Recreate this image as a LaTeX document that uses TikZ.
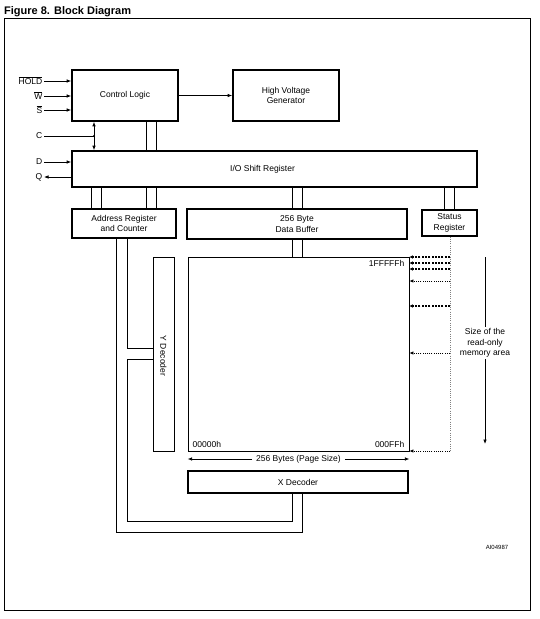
\documentclass[tikz,border=0pt]{standalone}
\usepackage{fontspec}
\setmainfont{Liberation Sans}
\usetikzlibrary{arrows.meta}
\newcommand\dfont{\fontsize{8.5}{10.5}\selectfont}
\newcommand\ovl[1]{\mbox{$\overline{\hbox{#1}}$}}
\begin{document}
\begin{tikzpicture}[x=1pt,y=-1pt,
  box/.style={draw,line width=1.6pt,inner sep=0pt,align=center,font=\dfont},
  txt/.style={inner sep=1.5pt,font=\dfont,align=center},
  wire/.style={line width=0.75pt},
  tip/.style={-{Latex[length=4.5pt,width=3.6pt]}},
  dtip/.style={{Latex[length=4.5pt,width=3.6pt]}-{Latex[length=4.5pt,width=3.6pt]}},
  thickdash/.style={line width=1.4pt,dash pattern=on 2pt off 1.3pt,-{Latex[length=3.5pt,width=3.5pt]}},
  thindot/.style={line width=0.8pt,dash pattern=on 1pt off 1.2pt,-{Latex[length=4pt,width=3.5pt]}},
]
\useasboundingbox (0,0) rectangle (539,619);
\node[anchor=base west,inner sep=0pt,font=\fontsize{11}{13}\selectfont\bfseries] (title) at (4,14.5) {Figure 8. Block Diagram};
\draw[line width=0.9pt] (4,18) rectangle (530,610);

% boxes
\node[box,minimum width=106pt,minimum height=51pt] (cl) at (125,95.5) {Control Logic};
\node[box,minimum width=106pt,minimum height=51pt] (hvg) at (286,95.5) {High Voltage\\Generator};
\node[box,minimum width=405pt,minimum height=36pt,label={[font=\dfont,xshift=-12pt]center:I/O Shift Register}] (io) at (274.5,169) {};
\node[box,minimum width=104pt,minimum height=29pt] (addr) at (124,223.5) {Address Register\\and Counter};
\node[box,minimum width=220pt,minimum height=30pt] (dbuf) at (297,224) {256 Byte\\Data Buffer};
\node[box,minimum width=55pt,minimum height=26pt] (stat) at (449.5,223) {Status\\Register};
\node[draw,line width=0.8pt,minimum width=221pt,minimum height=194pt,inner sep=0pt] (mem) at (298.5,354) {};
\draw[line width=1.6pt] (mem.north east) -- (mem.south east) -- (mem.south west);
\node[draw,line width=0.9pt,minimum width=21pt,minimum height=194pt,inner sep=0pt] (ydec) at (163.5,354) {};
\node[txt,rotate=-90] (ytxt) at (163.5,356) {Y Decoder};
\node[box,minimum width=220pt,minimum height=22pt] (xdec) at (298,482) {X Decoder};

% inputs
\node[txt,anchor=east] (hold) at (44,81) {\ovl{HOLD}};
\node[txt,anchor=east] (w) at (44,96) {\ovl{W}};
\node[txt,anchor=east] (s) at (44,110) {\ovl{S}};
\node[txt,anchor=east] (c) at (44,136) {C};
\node[txt,anchor=east] (d) at (44,162) {D};
\node[txt,anchor=east] (q) at (44,177) {Q};
\draw[wire,tip] (hold.east) -- (hold.east -| cl.west);
\draw[wire,tip] (w.east) -- (w.east -| cl.west);
\draw[wire,tip] (s.east) -- (s.east -| cl.west);
\coordinate (cj) at (94,136);
\draw[wire] (c.east) -- (cj);
\fill (cj) circle (1.1pt);
\draw[wire,dtip] (cl.south -| cj) -- (io.north -| cj);
\draw[wire,tip] (d.east) -- (d.east -| io.west);
\draw[wire,tip] (q.east -| io.west) -- (q.east);
\draw[wire,tip] (cl.east) -- (hvg.west);

% bus x positions
\coordinate (a1) at (91,0);
\coordinate (a2) at (101,0);
\coordinate (b1) at (146,0);
\coordinate (b2) at (156,0);
\coordinate (d1) at (292,0);
\coordinate (d2) at (302,0);
\coordinate (s1) at (444,0);
\coordinate (s2) at (454,0);
\draw[wire] (cl.south -| b1) -- (io.north -| b1);
\draw[wire] (cl.south -| b2) -- (io.north -| b2);
\draw[wire] (io.south -| a1) -- (addr.north -| a1);
\draw[wire] (io.south -| a2) -- (addr.north -| a2);
\draw[wire] (io.south -| b1) -- (addr.north -| b1);
\draw[wire] (io.south -| b2) -- (addr.north -| b2);
\draw[wire] (io.south -| d1) -- (dbuf.north -| d1);
\draw[wire] (io.south -| d2) -- (dbuf.north -| d2);
\draw[wire] (io.south -| s1) -- (stat.north -| s1);
\draw[wire] (io.south -| s2) -- (stat.north -| s2);
\draw[wire] (dbuf.south -| d1) -- (mem.north -| d1);
\draw[wire] (dbuf.south -| d2) -- (mem.north -| d2);

% address routing
\coordinate (ri) at (127,521);
\coordinate (ro) at (116,532);
\coordinate (ya) at (0,348);
\coordinate (yb) at (0,359);
\draw[wire] (addr.south -| ri) |- (ydec.west |- ya);
\draw[wire] (ydec.west |- yb) -| (ri) -| (xdec.south -| d1);
\draw[wire] (addr.south -| ro) -- (ro) -| (xdec.south -| d2);

% memory labels
\node[txt,anchor=east] (top) at (406,263) {1FFFFFh};
\node[txt,anchor=west] (lo) at (191,444) {00000h};
\node[txt,anchor=east] (hi) at (406,444) {000FFh};

% page size
\node[txt,inner sep=4pt] (pg) at (298.5,459) {256 Bytes (Page Size)};
\draw[wire,tip] (pg.west) -- (pg.west -| mem.west);
\draw[wire,tip] (pg.east) -- (pg.east -| mem.east);

% dotted protection lines
\coordinate (dv) at (450,0);
\draw[line width=0.8pt,dash pattern=on 1pt off 1.2pt,gray] (stat.south -| dv) -- (dv |- mem.south);
\foreach \yy in {257,263,269,306}{
  \coordinate (t) at (0,\yy);
  \draw[thickdash] (dv |- t) -- (mem.east |- t);
}
\foreach \yy in {281,353,451}{
  \coordinate (t) at (0,\yy);
  \draw[thindot] (dv |- t) -- (mem.east |- t);
}

% size arrow
\node[txt] (sz) at (485,343) {Size of the\\read-only\\memory area};
\coordinate (szt) at (485,257);
\coordinate (szb) at (485,444);
\draw[wire] (szt) -- (sz.north);
\draw[wire,tip] (sz.south) -- (szb);

\node[inner sep=0pt,font=\fontsize{6}{7}\selectfont] (ai) at (497,547) {AI04987};
\end{tikzpicture}
\end{document}
